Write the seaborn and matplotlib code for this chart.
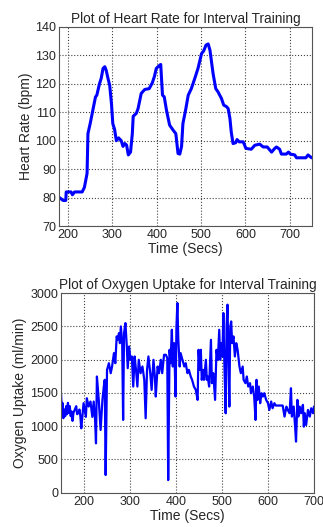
import pandas as pd
import seaborn as sns
import matplotlib.pyplot as plt

# heart rate trace
hr_time = [181, 189, 195, 196, 207, 210, 215, 232, 237, 243, 245, 250, 256, 262, 265,
           271, 275, 279, 283, 286, 290, 294, 298, 301, 305, 309, 314, 320, 324, 328,
           332, 336, 341, 345, 347, 354, 358, 365, 373, 383, 390, 395, 399, 405, 409,
           413, 417, 422, 429, 437, 443, 448, 452, 456, 459, 465, 471, 478, 486, 493,
           501, 506, 511, 516, 520, 527, 533, 538, 546, 551, 557, 561, 565, 568, 572,
           578, 581, 586, 595, 601, 613, 621, 632, 640, 649, 655, 659, 666, 670, 677,
           681, 692, 697, 701, 711, 715, 736, 741, 749]
hr_bpm = [80, 79, 79, 82, 82, 81, 82, 82, 83.6, 88.5, 102.5, 106, 110.7, 115.4, 116,
          120, 122, 125.4, 126, 124.8, 122, 119.5, 113, 106, 104, 100, 101, 100, 98, 99,
          98.5, 95, 96, 102.5, 108.6, 109.6, 111.3, 116.6, 118, 118.3, 120.3, 122.7, 125.4, 126.3, 126.8,
          116, 115.4, 110.7, 105.5, 103.7, 102.5, 95.5, 95.3, 98, 106, 110.7, 116, 118.3, 122, 125.4,
          130.6, 131.6, 133.6, 134, 131.8, 123.6, 118.3, 117.2, 114.8, 112.5, 112, 111.3, 107.8, 103, 99,
          99.3, 100.4, 99.6, 99.6, 97.3, 97, 98.4, 98.8, 97.8, 97.8, 96.7, 96, 97.3, 97.8, 97,
          95.3, 95.3, 96, 95.3, 95, 94, 94, 95, 94]

# oxygen uptake trace
o2_time = [150, 152, 153, 155, 157, 159, 161, 163, 165, 167, 169, 171, 173, 175, 177,
           180, 183, 185, 188, 190, 192, 194, 199, 204, 206, 210, 214, 218, 221, 224,
           226, 228, 232, 236, 240, 243, 245, 247, 250, 254, 258, 261, 265, 268, 271,
           273, 276, 278, 280, 283, 285, 287, 290, 293, 295, 298, 301, 304, 307, 310,
           313, 316, 319, 323, 327, 331, 334, 337, 340, 344, 347, 351, 354, 356, 360,
           363, 367, 370, 374, 378, 381, 383, 386, 388, 391, 393, 396, 399, 401, 403,
           405, 408, 410, 414, 418, 421, 425, 428, 432, 435, 439, 443, 447, 449, 452,
           454, 456, 459, 461, 465, 467, 469, 472, 476, 478, 481, 485, 488, 491, 494,
           496, 498, 501, 503, 505, 508, 510, 512, 514, 516, 518, 520, 522, 525, 528,
           531, 534, 538, 541, 545, 547, 551, 554, 557, 561, 563, 567, 570, 573, 575,
           577, 580, 583, 586, 589, 592, 596, 600, 603, 607, 610, 614, 617, 625, 632,
           636, 640, 643, 647, 650, 652, 656, 659, 661, 664, 666, 669, 672, 676, 678,
           680, 683, 687, 691, 694, 698, 700]
o2_uptake = [1480, 1200, 1350, 1120, 1250, 1150, 1300, 1180, 1350, 1200, 1300, 1150, 1220, 1080, 1200,
             1250, 1300, 1180, 1200, 1250, 1150, 968, 1345, 1140, 1420, 1295, 1370, 1140, 1370, 1094,
             742, 1746, 1395, 943, 1395, 1595, 1696, 266, 1846, 1946, 1796, 1896, 2097, 1946, 2348,
             2297, 2398, 2247, 2498, 2247, 1094, 2398, 2548, 2197, 1871, 2197, 1997, 2047, 1595, 2047,
             1846, 1595, 1997, 1796, 1896, 1696, 1119, 1846, 2047, 1796, 1545, 1997, 1746, 1445, 1896,
             1796, 1997, 1796, 2072, 2072, 2022, 190, 2147, 1946, 2448, 1896, 2247, 1445, 2498, 2850,
             2297, 1896, 2097, 1997, 1896, 1946, 1796, 1846, 1746, 1696, 1595, 1545, 1395, 2147, 1846,
             2147, 1696, 1846, 1696, 1997, 1696, 1746, 1595, 2297, 1646, 1796, 1395, 2147, 1997, 2448,
             1997, 2247, 2047, 2699, 1997, 1194, 2498, 2825, 1997, 1294, 2498, 2573, 2247, 2348, 2047,
             2247, 2147, 1896, 1796, 1896, 1696, 1646, 1746, 1595, 1646, 1495, 1595, 1445, 1094, 1696,
             1395, 1595, 1345, 1495, 1445, 1495, 1395, 1345, 1244, 1370, 1269, 1345, 1310, 1310, 1310,
             1144, 1294, 1244, 1194, 1570, 1144, 1294, 993, 768, 1395, 1144, 1294, 1194, 1320, 993,
             1194, 1018, 1244, 1144, 1269, 1194, 1294]

hr = pd.DataFrame({'time': hr_time, 'bpm': hr_bpm})
o2 = pd.DataFrame({'time': o2_time, 'uptake': o2_uptake})

sns.set_style("white")
plt.rcParams['font.family'] = ['Liberation Sans', 'DejaVu Sans']
plt.rcParams['xtick.direction'] = 'in'
plt.rcParams['ytick.direction'] = 'in'

fig = plt.figure(figsize=(3.23, 5.27), dpi=100)
ax1 = fig.add_axes([0.183, 0.571, 0.783, 0.378])
ax2 = fig.add_axes([0.189, 0.065, 0.783, 0.379])

sns.lineplot(data=hr, x='time', y='bpm', ax=ax1, color='#0000ff', linewidth=2.2)
ax1.set_xlim(180, 750)
ax1.set_ylim(70, 140)
ax1.set_xticks([200, 300, 400, 500, 600, 700])
ax1.set_yticks(range(70, 141, 10))
ax1.set_title('Plot of Heart Rate for Interval Training', fontsize=9.8, pad=3)
ax1.set_xlabel('Time (Secs)', fontsize=10, labelpad=1)
ax1.set_ylabel('Heart Rate (bpm)', fontsize=10, labelpad=2)

sns.lineplot(data=o2, x='time', y='uptake', ax=ax2, color='#0000ff', linewidth=1.6)
ax2.set_xlim(150, 700)
ax2.set_ylim(0, 3000)
ax2.set_xticks([200, 300, 400, 500, 600, 700])
ax2.set_yticks(range(0, 3001, 500))
ax2.set_title('Plot of Oxygen Uptake for Interval Training', fontsize=9.8, pad=3)
ax2.set_xlabel('Time (Secs)', fontsize=10, labelpad=1)
ax2.set_ylabel('Oxygen Uptake (ml/min)', fontsize=10, labelpad=2)

for ax in (ax1, ax2):
    ax.grid(True, linestyle=':', color='#444444', linewidth=0.8)
    ax.tick_params(labelsize=9, length=3, pad=2)
    for s in ax.spines.values():
        s.set_color('#555555')
        s.set_linewidth(0.8)

fig.savefig('out.png', dpi=100)
